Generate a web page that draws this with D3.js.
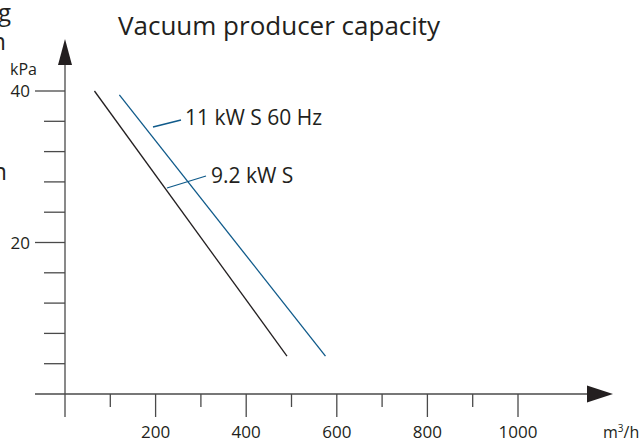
<!DOCTYPE html>
<html>
<head>
<meta charset="utf-8">
<script src="https://cdn.jsdelivr.net/npm/d3@7"></script>
<style>
  body { margin: 0; background: #fff; }
  svg { display: block; font-family: "Open Sans", "Noto Sans", sans-serif; }
</style>
</head>
<body>
<svg id="chart" width="642" height="441"></svg>
<script>
// data
const xMajorTicks = [200, 400, 600, 800, 1000];
const xMinorTicks = [100, 300, 500, 700, 900];
const yTicks = [4, 8, 12, 16, 20, 24, 28, 32, 36, 40];
const yLabelTicks = [20, 40];
const series9kW = [{ flow: 65, kpa: 40 }, { flow: 490, kpa: 5 }];
const series11kW = [{ flow: 120, kpa: 39.5 }, { flow: 575, kpa: 5 }];
const seriesNames = ["9.2 kW S", "11 kW S 60 Hz"];

(function renderChart() {
  const svg = d3.select("#chart");
  const axisColor = "#4a4a4a";
  const textColor = "#231f20";
  const blue = "#0f5a8a";

  const x = d3.scaleLinear().domain([0, 1000]).range([65, 518]);
  const y = d3.scaleLinear().domain([0, 40]).range([394, 91]);

  // cut-off letters from the neighbouring figure
  svg.append("text").attr("x", 11).attr("y", 21).attr("text-anchor", "end")
    .attr("font-size", 24).attr("fill", textColor).text("g");
  svg.append("text").attr("x", 6).attr("y", 50).attr("text-anchor", "end")
    .attr("font-size", 24).attr("fill", textColor).text("n");
  svg.append("text").attr("x", 7).attr("y", 180).attr("text-anchor", "end")
    .attr("font-size", 24).attr("fill", textColor).text("n");

  // title
  svg.append("text")
    .attr("x", 118).attr("y", 35)
    .attr("font-size", 26)
    .attr("fill", textColor)
    .text("Vacuum producer capacity");

  // axis lines
  svg.append("line")
    .attr("x1", 35).attr("x2", 590)
    .attr("y1", y(0)).attr("y2", y(0))
    .attr("stroke", axisColor).attr("stroke-width", 1.3);
  svg.append("line")
    .attr("x1", x(0)).attr("x2", x(0))
    .attr("y1", 417).attr("y2", 62)
    .attr("stroke", axisColor).attr("stroke-width", 1.3);

  // arrow heads
  svg.append("path")
    .attr("d", `M587,${y(0) - 8.5} L613,${y(0)} L587,${y(0) + 8.5} Z`)
    .attr("fill", textColor);
  svg.append("path")
    .attr("d", `M${x(0) - 7},65 L${x(0)},39 L${x(0) + 7},65 Z`)
    .attr("fill", textColor);

  // x ticks
  svg.selectAll(".xmaj").data(xMajorTicks).enter().append("line")
    .attr("x1", d => x(d)).attr("x2", d => x(d))
    .attr("y1", y(0)).attr("y2", y(0) + 23)
    .attr("stroke", axisColor).attr("stroke-width", 1.3);
  svg.selectAll(".xmin").data(xMinorTicks).enter().append("line")
    .attr("x1", d => x(d)).attr("x2", d => x(d))
    .attr("y1", y(0)).attr("y2", y(0) + 13)
    .attr("stroke", axisColor).attr("stroke-width", 1.3);
  svg.selectAll(".xlab").data(xMajorTicks).enter().append("text")
    .attr("x", d => x(d)).attr("y", 438)
    .attr("text-anchor", "middle")
    .attr("font-size", 17).attr("fill", textColor)
    .text(d => d);
  const unit = svg.append("text")
    .attr("x", 603).attr("y", 438)
    .attr("font-size", 16).attr("fill", textColor);
  unit.append("tspan").text("m");
  unit.append("tspan").attr("font-size", 10).attr("dy", -6).text("3");
  unit.append("tspan").attr("dy", 6).text("/h");

  // y ticks
  svg.selectAll(".ytick").data(yTicks).enter().append("line")
    .attr("x1", d => yLabelTicks.includes(d) ? 35 : 44).attr("x2", x(0))
    .attr("y1", d => y(d)).attr("y2", d => y(d))
    .attr("stroke", axisColor).attr("stroke-width", 1.3);
  svg.selectAll(".ylab").data(yLabelTicks).enter().append("text")
    .attr("x", 30).attr("y", d => y(d) + 6)
    .attr("text-anchor", "end")
    .attr("font-size", 17).attr("fill", textColor)
    .text(d => d);
  svg.append("text")
    .attr("x", 10).attr("y", 75)
    .attr("font-size", 16).attr("fill", textColor)
    .text("kPa");

  // curves
  const line = d3.line().x(d => x(d.flow)).y(d => y(d.kpa));
  svg.append("path").datum(series9kW)
    .attr("d", line).attr("fill", "none")
    .attr("stroke", "#231f20").attr("stroke-width", 1.3);
  svg.append("path").datum(series11kW)
    .attr("d", line).attr("fill", "none")
    .attr("stroke", blue).attr("stroke-width", 1.3);

  // labels with leaders
  svg.append("line").attr("x1", 153).attr("y1", 127).attr("x2", 181).attr("y2", 120)
    .attr("stroke", blue).attr("stroke-width", 1.3);
  svg.append("text").attr("x", 185).attr("y", 125)
    .attr("font-size", 21).attr("fill", textColor).text(seriesNames[1]);
  svg.append("line").attr("x1", 167).attr("y1", 188).attr("x2", 206).attr("y2", 176)
    .attr("stroke", blue).attr("stroke-width", 1.3);
  svg.append("text").attr("x", 211).attr("y", 183)
    .attr("font-size", 21).attr("fill", textColor).text(seriesNames[0]);
})();
</script>
</body>
</html>
